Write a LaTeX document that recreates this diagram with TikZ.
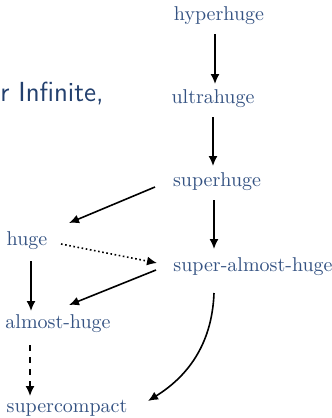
\documentclass[tikz,border=0pt]{standalone}
\usetikzlibrary{arrows.meta,calc}
\definecolor{nodeblue}{RGB}{52,82,130}
\definecolor{titleblue}{RGB}{35,64,110}
\begin{document}
\begin{tikzpicture}[x=0.5pt,y=-0.5pt,
  lbl/.style={text=nodeblue, inner sep=0pt, font=\fontsize{10}{12}\selectfont},
  conn/.style={line width=0.8pt, -{Latex[length=5pt,width=4.5pt]}},
  dotline/.style={conn, dash pattern=on 0.8pt off 1.3pt},
  dashline/.style={conn, dash pattern=on 3pt off 3pt}]
\useasboundingbox (0,0) rectangle (332,418);
\node[lbl] (hh) at (219,16) {hyperhuge};
\node[lbl] (uh) at (213,99) {ultrahuge};
\node[lbl] (sh) at (217,182) {superhuge};
\node[lbl] (hg) at (27,241) {huge};
\node[lbl] (sah) at (253,267) {super-almost-huge};
\node[lbl] (ah) at (58,324) {almost-huge};
\node[lbl] (sc) at (67,408) {supercompact};
\node[text=titleblue, inner sep=0pt, anchor=base east, font=\fontsize{13.8}{16}\sffamily] (tt) at (104,101) {r Infinite,};
\draw[conn] ($(hh)+(-4,18)$) -- ($(uh)+(2,-15)$);
\draw[conn] ($(uh)+(0,18)$) -- ($(sh)+(-4,-16)$);
\draw[conn] ($(sh)+(-62,5)$) -- ($(hg)+(42,-18)$);
\draw[conn] ($(sh)+(-3,18)$) -- ($(sah)+(-39,-18)$);
\draw[dotline] ($(hg)+(34,3)$) -- ($(sah)+(-96,-4)$);
\draw[conn] ($(hg)+(4,20)$) -- ($(ah)+(-27,-13)$);
\draw[conn] ($(sah)+(-97,3)$) -- ($(ah)+(11,-19)$);
\draw[dashline] ($(ah)+(-28,21)$) -- ($(sc)+(-37,-12)$);
\draw[conn] ($(sah)+(-39,26)$) .. controls ($(sah)+(-41,80)$) and ($(sc)+(118,-30)$) .. ($(sc)+(81,-7)$);
\end{tikzpicture}
\end{document}
